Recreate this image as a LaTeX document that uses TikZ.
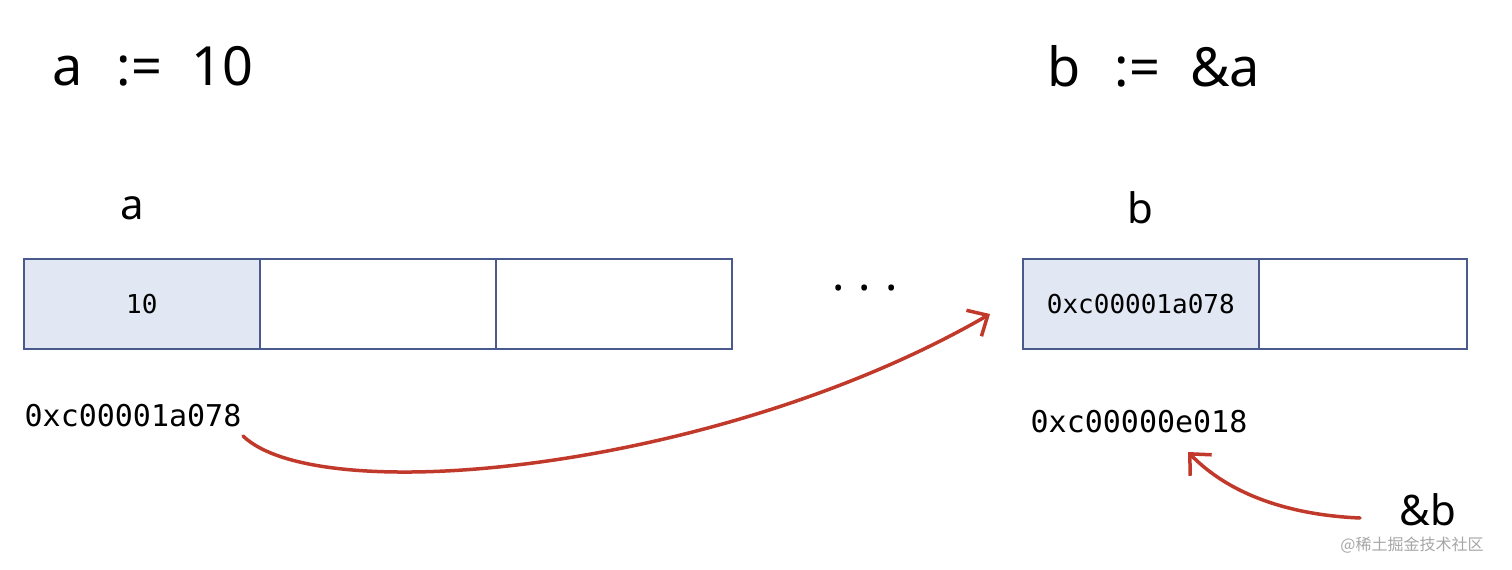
\documentclass[tikz,border=0pt]{standalone}
\usepackage{fontspec}
\setmainfont{Noto Sans}
\setmonofont{DejaVu Sans Mono}
\newfontfamily\cjk{Noto Sans CJK SC}
\usetikzlibrary{arrows.meta}
\definecolor{cellblue}{HTML}{E1E8F4}
\definecolor{boxline}{HTML}{4A5A8C}
\definecolor{arrred}{HTML}{C0392B}
\tikzset{
  cell/.style={draw=boxline,line width=1.6pt,minimum width=236pt,minimum height=90pt,inner sep=0pt,anchor=north west},
  big/.style={font=\fontsize{54}{58}\selectfont},
  mid/.style={font=\fontsize{42}{46}\selectfont},
  addr/.style={font=\ttfamily\fontsize{30}{32}\selectfont},
  celltxt/.style={font=\ttfamily\fontsize{26}{28}\selectfont},
  redarr/.style={draw=arrred,line width=3.5pt,line cap=round,-{Straight Barb[length=16pt,width=30pt,line width=3.5pt]}}
}
\begin{document}
\begin{tikzpicture}[x=1pt,y=-1pt]
\useasboundingbox (0,0) rectangle (1512,570);
\node[big] (codeA) at (153,66) {a\hspace{34pt}:=\hspace{30pt}10};
\node[big] (codeB) at (1154,66) {b\hspace{34pt}:=\hspace{30pt}\&a};
\node[mid] (la) at (132,208) {a};
\node[mid] (lb) at (1140,208) {b};
\node[cell,fill=cellblue] (a1) at (23,258) {};
\node[cell] (a2) at (259,258) {};
\node[cell] (a3) at (495,258) {};
\node[celltxt] at (a1.center) {10};
\node[cell,fill=cellblue] (b1) at (1022,258) {};
\node[cell,minimum width=208pt] (b2) at (1258,258) {};
\node[celltxt] at (b1.center) {0xc00001a078};
\node[font=\fontsize{46}{46}\selectfont] (dots) at (865,288) {.\hspace{14pt}.\hspace{14pt}.};
\node[addr] (addrA) at (133,416) {0xc00001a078};
\node[addr] (addrB) at (1139,422) {0xc00000e018};
\node[mid] (refb) at (1428,510) {\&b};
\coordinate (s1) at (243,436);
\coordinate (t1) at (990,314);
\coordinate (s2) at (1360,518);
\coordinate (t2) at (1188,452);
\node[font=\cjk\fontsize{16}{18}\selectfont,text=gray!70] (wm) at (1412,545) {@稀土掘金技术社区};
\draw[redarr] (s1) .. controls (320,510) and (720,470) .. (t1);
\draw[redarr] (s2) .. controls (1290,515) and (1230,495) .. (t2);
\end{tikzpicture}
\end{document}
